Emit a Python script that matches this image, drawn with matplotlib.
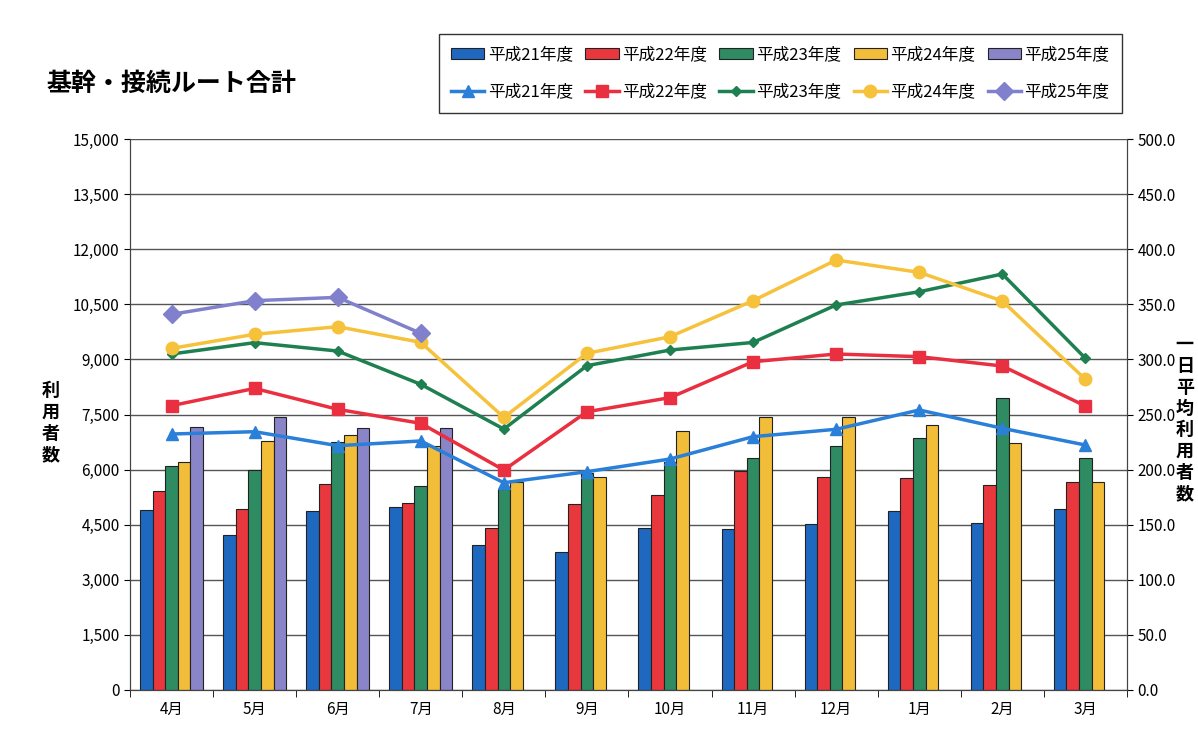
import numpy as np
import matplotlib
matplotlib.use("Agg")
import matplotlib.pyplot as plt
from matplotlib.ticker import FuncFormatter, MultipleLocator

plt.rcParams['font.family'] = ['Noto Sans CJK JP', 'DejaVu Sans']

months = ['4月', '5月', '6月', '7月', '8月', '9月', '10月', '11月', '12月', '1月', '2月', '3月']
years = ['平成21年度', '平成22年度', '平成23年度', '平成24年度', '平成25年度']

# 利用者数 (bars, left axis)
users_h21 = [4900, 4220, 4870, 4990, 3950, 3750, 4400, 4380, 4510, 4860, 4540, 4920]
users_h22 = [5430, 4930, 5610, 5080, 4400, 5060, 5310, 5960, 5810, 5760, 5580, 5670]
users_h23 = [6100, 5990, 6760, 5550, 5460, 5920, 6220, 6310, 6640, 6870, 7940, 6310]
users_h24 = [6210, 6780, 6930, 6650, 5670, 5810, 7050, 7420, 7420, 7220, 6720, 5650]
users_h25 = [7170, 7440, 7140, 7120]

# 一日平均利用者数 (lines, right axis)
avg_h21 = [232.3, 234.4, 221.7, 226.0, 188.1, 198.1, 209.6, 229.9, 236.6, 254.1, 237.5, 222.3]
avg_h22 = [258.0, 273.7, 254.7, 242.0, 199.6, 252.5, 265.3, 297.9, 304.9, 302.5, 294.0, 257.7]
avg_h23 = [304.9, 315.2, 307.6, 277.4, 236.8, 294.3, 308.5, 315.4, 349.4, 361.4, 377.5, 301.0]
avg_h24 = [310.0, 322.8, 329.7, 315.5, 247.4, 305.5, 320.6, 353.3, 390.2, 379.0, 353.0, 281.9]
avg_h25 = [340.9, 353.3, 356.3, 323.7]

bar_data = [users_h21, users_h22, users_h23, users_h24, users_h25]
line_data = [avg_h21, avg_h22, avg_h23, avg_h24, avg_h25]
bar_colors = ['#1f68c0', '#e8383d', '#2e8b62', '#f2bd38', '#8a84c8']
line_colors = ['#2a7fd8', '#ea3040', '#1e8050', '#f6c23c', '#8080cc']
markers = ['^', 's', 'D', 'o', 'D']
msizes = [9, 9, 5, 9, 9]

fig = plt.figure(figsize=(11.98, 7.29), dpi=100)
ax = fig.add_axes([0.1085, 0.0535, 0.8322, 0.7558])
ax2 = ax.twinx()

x = np.arange(len(months))
w = 0.152
bar_handles = []
for i, vals in enumerate(bar_data):
    xs = x[:len(vals)] + (i - 2) * w
    b = ax.bar(xs, vals, width=w, color=bar_colors[i], edgecolor='#222222', linewidth=0.8,
               label=years[i], zorder=2)
    bar_handles.append(b)

line_handles = []
for i, vals in enumerate(line_data):
    l, = ax2.plot(x[:len(vals)], vals, color=line_colors[i], lw=2.5, marker=markers[i],
                  markersize=msizes[i], label=years[i], zorder=3)
    line_handles.append(l)

ax.set_xlim(-0.5, 11.5)
ax.set_ylim(0, 15000)
ax2.set_ylim(0, 500)
ax.yaxis.set_major_locator(MultipleLocator(1500))
ax2.yaxis.set_major_locator(MultipleLocator(50))
ax.yaxis.set_major_formatter(FuncFormatter(lambda v, p: f'{int(v):,}'))
ax2.yaxis.set_major_formatter(FuncFormatter(lambda v, p: f'{v:.1f}'))
ax.grid(axis='y', color='#555555', lw=1.0, zorder=0)
ax.set_axisbelow(True)

ax.set_xticks(x)
ax.set_xticklabels(months, fontsize=11)
ax.set_xticks(np.arange(-0.5, 12, 1), minor=True)
ax.tick_params(axis='x', which='major', length=0, pad=8)
ax.tick_params(axis='x', which='minor', length=5, direction='out')
ax.tick_params(axis='y', labelsize=11, length=4, direction='out')
ax2.tick_params(axis='y', labelsize=11, length=4, direction='out')

for a in (ax, ax2):
    a.spines['top'].set_visible(False)
    for s in ('left', 'right', 'bottom'):
        a.spines[s].set_color('#444444')

# stacked vertical axis labels
fig.text(0.042, 0.42, '利\n用\n者\n数', fontsize=13, fontweight='bold', ha='center', va='center',
         linespacing=1.15)
fig.text(0.989, 0.425, '一\n日\n平\n均\n利\n用\n者\n数', fontsize=13, fontweight='bold', ha='center',
         va='center', linespacing=1.15)

fig.text(0.039, 0.885, '基幹・接続ルート合計', fontsize=18, fontweight='bold', ha='left', va='center')

handles = []
for b, l in zip(bar_handles, line_handles):
    handles += [b, l]
leg = ax.legend(handles=handles, labels=[h.get_label() for h in handles], ncol=5,
                loc='upper right', bbox_to_anchor=(0.9435, 0.965), bbox_transform=fig.transFigure,
                fontsize=12, frameon=True, fancybox=False, edgecolor='black',
                handlelength=2.0, columnspacing=0.75, labelspacing=1.2, handletextpad=0.2,
                borderpad=0.75)
leg.get_frame().set_linewidth(1.0)

fig.savefig('out.png', dpi=100)
